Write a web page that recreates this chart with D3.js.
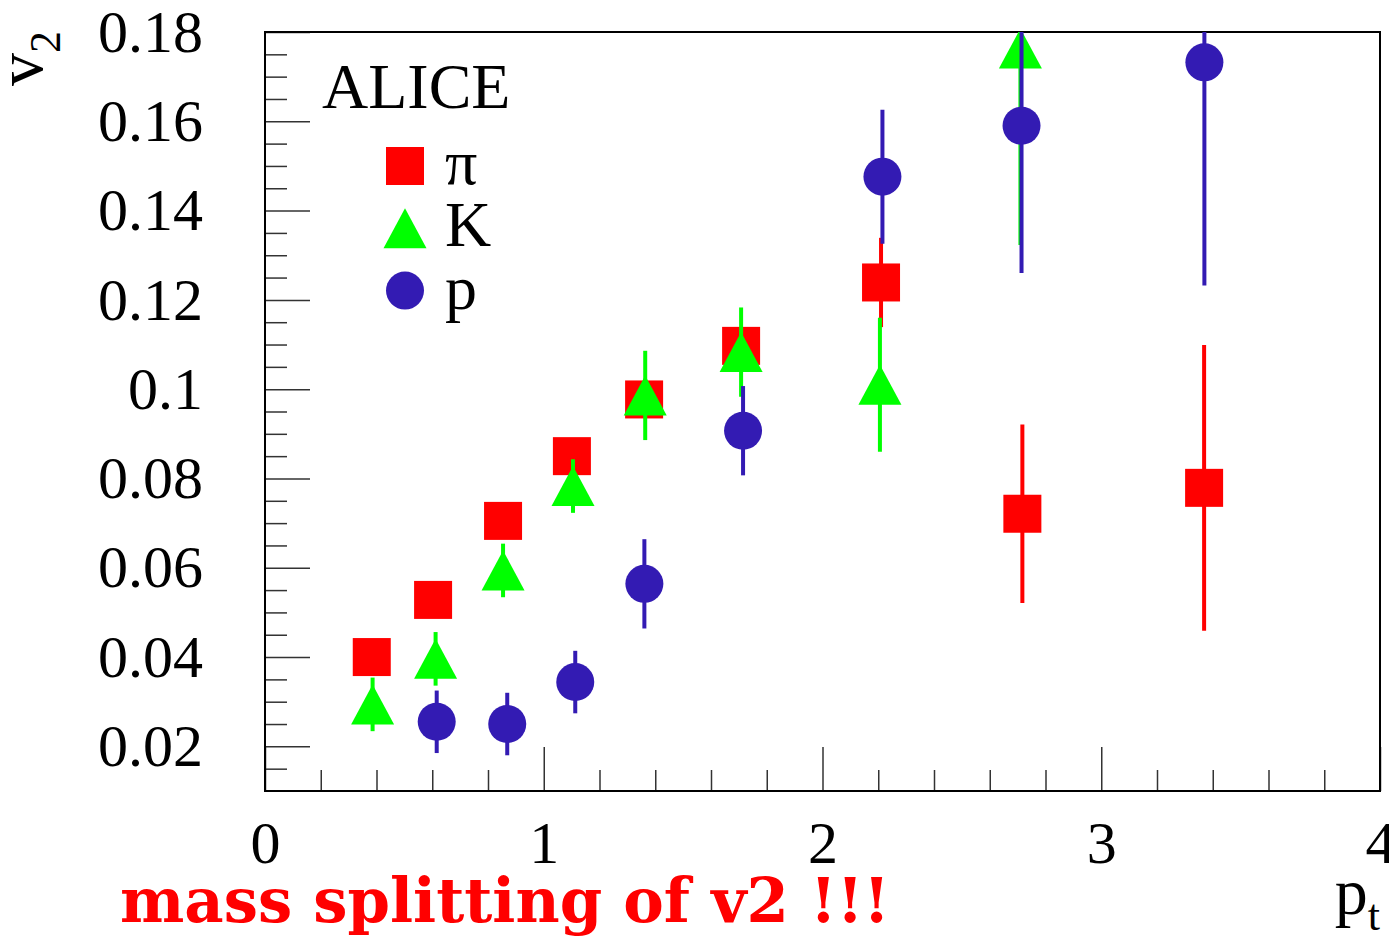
<!DOCTYPE html>
<html>
<head>
<meta charset="utf-8">
<script src="https://cdn.jsdelivr.net/npm/d3@7"></script>
<style>
  body { margin: 0; background: #fff; }
</style>
</head>
<body>
<div class="container"></div>
<script>

// v2 vs pt
const piPt  = [0.383, 0.603, 0.854, 1.101, 1.360, 1.708, 2.210, 2.717, 3.369];
const piV2  = [0.0400, 0.0528, 0.0705, 0.0850, 0.0977, 0.1097, 0.1239, 0.0721, 0.0779];
const piErr = [0.002, 0.002, 0.002, 0.002, 0.002, 0.002, 0.010, 0.020, 0.032];

const kPt  = [0.386, 0.612, 0.854, 1.105, 1.364, 1.708, 2.206, 2.710];
const kV2  = [0.0294, 0.0396, 0.0594, 0.0783, 0.0986, 0.1083, 0.1010, 0.1763];
const kErr = [0.006, 0.006, 0.006, 0.006, 0.010, 0.010, 0.015, 0.044];

const pPt  = [0.616, 0.869, 1.113, 1.361, 1.715, 2.215, 2.714, 3.370];
const pV2  = [0.0255, 0.0250, 0.0344, 0.0564, 0.0907, 0.1476, 0.1590, 0.1732];
const pErr = [0.007, 0.007, 0.007, 0.010, 0.010, 0.015, 0.033, 0.050];

const legendLabels = ['π', 'K', 'p'];
const xTicks = [0, 1, 2, 3, 4];
const yTicks = [0.02, 0.04, 0.06, 0.08, 0.1, 0.12, 0.14, 0.16, 0.18];

const width = 1389;
const height = 937;
const padLeft = 265, padRight = 1380, padTop = 32, padBottom = 791;

const xScale = d3.scaleLinear().domain([0, 4]).range([padLeft, padRight]);
const yScale = d3.scaleLinear().domain([0.01, 0.18]).range([padBottom, padTop]);

const svg = d3.select('.container')
  .append('svg')
  .attr('width', width)
  .attr('height', height);

const serif = "'Liberation Serif', 'Times New Roman', serif";

// minor ticks
const xMinor = d3.range(1, 20).filter(i => i % 5 !== 0).map(i => i * 0.2);
const yMinor = d3.range(3, 37).filter(i => i % 4 !== 0).map(i => i * 0.005);

svg.append('g')
  .attr('transform', `translate(0,${padBottom})`)
  .call(d3.axisBottom(xScale).tickValues(xMinor).tickSizeInner(-21).tickSizeOuter(0).tickFormat(''))
  .call(g => g.select('.domain').remove())
  .selectAll('line').attr('stroke-width', 1.5).attr('stroke', '#333');

svg.append('g')
  .attr('transform', `translate(${padLeft},0)`)
  .call(d3.axisLeft(yScale).tickValues(yMinor).tickSizeInner(-22).tickSizeOuter(0).tickFormat(''))
  .call(g => g.select('.domain').remove())
  .selectAll('line').attr('stroke-width', 1.5).attr('stroke', '#333');

// major ticks + labels
const xAxis = svg.append('g')
  .attr('transform', `translate(0,${padBottom})`)
  .call(d3.axisBottom(xScale).tickValues(xTicks).tickSizeInner(-44).tickSizeOuter(0).tickPadding(29).tickFormat(d => d))
  .call(g => g.select('.domain').remove());
xAxis.attr('font-size', 60).attr('font-family', serif);
xAxis.selectAll('line').attr('stroke-width', 1.5).attr('stroke', '#333');
xAxis.selectAll('text').attr('fill', '#000');

const yAxis = svg.append('g')
  .attr('transform', `translate(${padLeft},0)`)
  .call(d3.axisLeft(yScale).tickValues(yTicks).tickSizeInner(-45).tickSizeOuter(0).tickPadding(62).tickFormat(d => String(+d.toFixed(2))))
  .call(g => g.select('.domain').remove());
yAxis.attr('font-size', 60).attr('font-family', serif);
yAxis.selectAll('line').attr('stroke-width', 1.5).attr('stroke', '#333');
yAxis.selectAll('text').attr('fill', '#000');

// frame
svg.append('rect')
  .attr('x', padLeft).attr('y', padTop)
  .attr('width', padRight - padLeft).attr('height', padBottom - padTop)
  .attr('fill', 'none').attr('stroke', '#000').attr('stroke-width', 2);

svg.append('clipPath').attr('id', 'frame')
  .append('rect')
  .attr('x', padLeft).attr('y', padTop)
  .attr('width', padRight - padLeft).attr('height', padBottom - padTop);

const plot = svg.append('g').attr('clip-path', 'url(#frame)');

const series = [
  { pt: piPt, v2: piV2, err: piErr, color: '#ff0000', shape: 'square' },
  { pt: kPt, v2: kV2, err: kErr, color: '#00ff00', shape: 'triangle' },
  { pt: pPt, v2: pV2, err: pErr, color: '#331bb3', shape: 'circle' }
];

const drawMarker = (g, shape, cx, cy, color) => {
  if (shape === 'square') {
    g.append('rect').attr('x', cx - 19).attr('y', cy - 19)
      .attr('width', 38).attr('height', 38).attr('fill', color);
  } else if (shape === 'triangle') {
    g.append('path')
      .attr('d', `M${cx - 21.5},${cy + 20}L${cx + 21.5},${cy + 20}L${cx},${cy - 20}Z`)
      .attr('fill', color);
  } else {
    g.append('circle').attr('cx', cx).attr('cy', cy).attr('r', 19).attr('fill', color);
  }
};

series.forEach(s => {
  const pts = s.pt.map((d, i) => ({ pt: d, v2: s.v2[i], err: s.err[i] }));
  plot.selectAll(null)
    .data(pts)
    .enter()
    .append('line')
    .attr('x1', d => xScale(d.pt)).attr('x2', d => xScale(d.pt))
    .attr('y1', d => yScale(d.v2 - d.err)).attr('y2', d => yScale(d.v2 + d.err))
    .attr('stroke', s.color).attr('stroke-width', 4);
  pts.forEach(d => drawMarker(plot, s.shape, xScale(d.pt), yScale(d.v2), s.color));
});

// ALICE + legend
svg.append('text')
  .attr('x', 322).attr('y', 108)
  .attr('font-family', serif).attr('font-size', 64)
  .text('ALICE');

legendLabels.forEach((lab, i) => {
  const cy = 166 + i * 62.3;
  drawMarker(svg, series[i].shape, 405, cy, series[i].color);
  svg.append('text')
    .attr('x', 445).attr('y', cy + 18)
    .attr('font-family', serif).attr('font-size', 64)
    .text(lab);
});

// axis titles
const yTitle = svg.append('text')
  .attr('transform', 'translate(42,86) rotate(-90)')
  .attr('font-family', serif).attr('font-size', 66);
yTitle.append('tspan').text('v');
yTitle.append('tspan').attr('dy', 18).attr('font-size', 44).text('2');

const xTitle = svg.append('text')
  .attr('x', 1380).attr('y', 914)
  .attr('text-anchor', 'end')
  .attr('font-family', serif).attr('font-size', 66);
xTitle.append('tspan').text('p');
xTitle.append('tspan').attr('dy', 16).attr('font-size', 44).text('t');

// red note
svg.append('text')
  .attr('x', 120).attr('y', 922)
  .attr('font-family', "'DejaVu Serif', serif").attr('font-weight', 'bold')
  .attr('font-size', 62)
  .attr('textLength', 770).attr('lengthAdjust', 'spacingAndGlyphs')
  .attr('fill', '#ff0000')
  .text('mass splitting of v2 !!!');

</script>
</body>
</html>
